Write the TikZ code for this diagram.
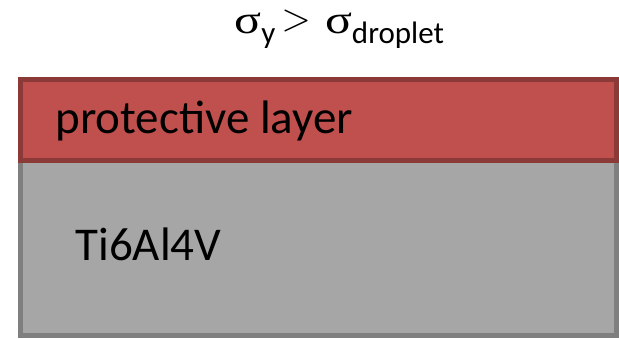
\documentclass[tikz,border=0pt]{standalone}
\usepackage{fontspec}
\setmainfont{Carlito}
\newfontfamily\symfont{Liberation Serif}
\definecolor{coatred}{HTML}{C0504D}
\definecolor{coatedge}{HTML}{8C3A38}
\definecolor{basegray}{HTML}{A6A6A6}
\definecolor{baseedge}{HTML}{7F7F7F}
\newcommand{\sig}{{\symfont\fontsize{40}{42}\selectfont\scalebox{1.25}[1]{σ}}}
\newcommand{\sub}[1]{\raisebox{-10pt}{\fontsize{31}{32}\selectfont #1}}
\begin{document}
\begin{tikzpicture}[x=1pt, y=-1pt, line width=5pt,
  label/.style={inner sep=0pt, anchor=base west, font=\fontsize{47}{50}\selectfont}]

\useasboundingbox (0,0) rectangle (619,338);

\draw[fill=basegray, draw=baseedge] (20.5, 160.5) rectangle (616.5, 335.5);
\draw[fill=coatred, draw=coatedge] (20.5, 79.5) rectangle (616.5, 160.5);

\node[label] (coat) at (53, 133) {protective layer};
\node[label] (base) at (73, 260) {Ti6Al4V};

\node[inner sep=0pt, anchor=base west] (cond) at (232, 33)
  {\sig\sub{y}\hspace{6pt}\raisebox{3pt}{\scalebox{3.8}{$>$}}\hspace{14pt}\sig\sub{droplet}};

\end{tikzpicture}
\end{document}
